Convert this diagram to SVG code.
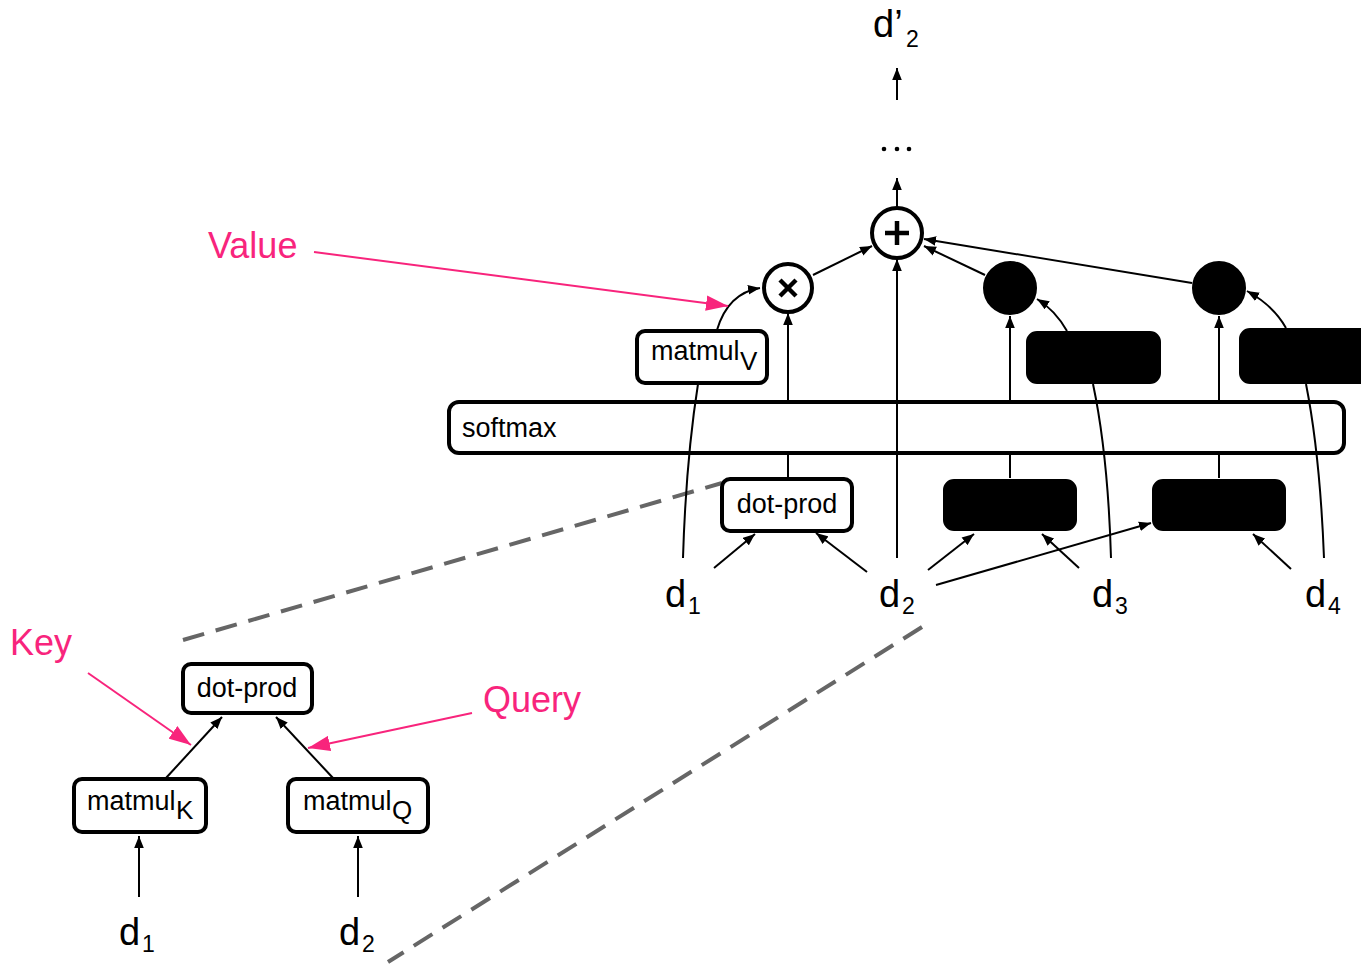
<svg xmlns="http://www.w3.org/2000/svg" width="1361" height="965" viewBox="0 0 1361 965">
  <style>
    .box { fill: #ffffff; stroke: #000000; stroke-width: 4; }
    .blk { fill: #000000; stroke: #000000; stroke-width: 2; }
    .lbl { font-family: "Liberation Sans", Arial, sans-serif; font-size: 27px; fill: #000000; }
    .sub { font-family: "Liberation Sans", Arial, sans-serif; font-size: 26px; fill: #000000; }
    .dv { font-family: "Liberation Sans", Arial, sans-serif; font-size: 38px; fill: #000000; }
    .ds { font-family: "Liberation Sans", Arial, sans-serif; font-size: 23px; fill: #000000; }
    .pink { font-family: "Liberation Sans", Arial, sans-serif; font-size: 36px; fill: #f8247c; }
    .edge { fill: none; stroke: #000000; stroke-width: 2; }
    .edge-a { fill: none; stroke: #000000; stroke-width: 2; marker-end: url(#ah); }
    .note { fill: none; stroke: #f8247c; stroke-width: 2; marker-end: url(#ph); }
    .dash { fill: none; stroke: #666666; stroke-width: 4; stroke-dasharray: 22 12; }
  </style>
  <defs>
    <marker id="ah" viewBox="0 0 10 8" refX="10" refY="4" markerWidth="12" markerHeight="10" markerUnits="userSpaceOnUse" orient="auto">
      <path d="M0,0 L10,4 L0,8 Z" fill="#000000"/>
    </marker>
    <marker id="ph" viewBox="0 0 20 14" refX="20" refY="7" markerWidth="22" markerHeight="16" markerUnits="userSpaceOnUse" orient="auto">
      <path d="M0,0 L20,7 L0,14 Z" fill="#f8247c"/>
    </marker>
  </defs>

  <rect width="1361" height="965" fill="#ffffff"/>

  <!-- zoom guides -->
  <g id="zoom-guides">
    <line class="dash" x1="183" y1="640" x2="722" y2="483"/>
    <line class="dash" x1="922" y1="627" x2="388" y2="962"/>
  </g>

  <!-- softmax bar -->
  <g id="softmax">
    <rect class="box" x="449" y="402" width="895" height="51" rx="10"/>
    <text class="lbl" x="462" y="437">softmax</text>
  </g>

  <!-- connectors -->
  <g id="connectors">
    <!-- output chain -->
    <line class="edge-a" x1="897" y1="100" x2="897" y2="68"/>
    <line class="edge-a" x1="897" y1="207" x2="897" y2="178"/>
    <!-- inputs to the sum -->
    <line class="edge-a" x1="813" y1="275" x2="872" y2="246"/>
    <line class="edge-a" x1="985" y1="275" x2="924" y2="246"/>
    <line class="edge-a" x1="1192" y1="283" x2="924" y2="239"/>
    <line class="edge-a" x1="897" y1="558" x2="897" y2="259"/>
    <!-- softmax to products -->
    <line class="edge-a" x1="788" y1="402" x2="788" y2="313"/>
    <line class="edge-a" x1="1010" y1="402" x2="1010" y2="316"/>
    <line class="edge-a" x1="1219" y1="402" x2="1219" y2="316"/>
    <!-- scores into softmax -->
    <line class="edge" x1="788" y1="478" x2="788" y2="453"/>
    <line class="edge" x1="1010" y1="478" x2="1010" y2="453"/>
    <line class="edge" x1="1219" y1="478" x2="1219" y2="453"/>
    <!-- value paths -->
    <path class="edge" d="M683,558 Q686,460 698,384"/>
    <path class="edge-a" d="M717,330 Q728,293 760,288"/>
    <path class="edge" d="M1111,558 Q1108,455 1093,384"/>
    <path class="edge-a" d="M1067,331 Q1055,310 1037,299"/>
    <path class="edge" d="M1324,558 Q1320,455 1306,384"/>
    <path class="edge-a" d="M1286,328 Q1274,306 1247,291"/>
    <!-- token inputs to scores -->
    <line class="edge-a" x1="714" y1="568" x2="755" y2="534"/>
    <line class="edge-a" x1="867" y1="572" x2="816" y2="533"/>
    <line class="edge-a" x1="928" y1="570" x2="974" y2="534"/>
    <line class="edge-a" x1="1079" y1="568" x2="1042" y2="534"/>
    <line class="edge-a" x1="936" y1="585" x2="1151" y2="523"/>
    <line class="edge-a" x1="1291" y1="569" x2="1253" y2="534"/>
    <!-- detail view -->
    <line class="edge-a" x1="166" y1="778" x2="222" y2="717"/>
    <line class="edge-a" x1="333" y1="778" x2="276" y2="717"/>
    <line class="edge-a" x1="139" y1="897" x2="139" y2="836"/>
    <line class="edge-a" x1="358" y1="897" x2="358" y2="836"/>
    <!-- annotations -->
    <line class="note" x1="314" y1="252" x2="728" y2="306"/>
    <line class="note" x1="88" y1="673" x2="191" y2="745"/>
    <line class="note" x1="472" y1="713" x2="308" y2="748"/>
  </g>

  <!-- output -->
  <g id="out">
    <text class="dv" x="873" y="37">d’</text>
    <text class="ds" x="906" y="47">2</text>
  </g>
  <g id="ellipsis">
    <circle cx="884" cy="149" r="2.3" fill="#000"/>
    <circle cx="897" cy="149" r="2.3" fill="#000"/>
    <circle cx="909" cy="149" r="2.3" fill="#000"/>
  </g>

  <!-- sum -->
  <g id="sum">
    <circle class="box" cx="897" cy="233" r="25"/>
    <line x1="885" y1="233" x2="909" y2="233" stroke="#000" stroke-width="4.5"/>
    <line x1="897" y1="221" x2="897" y2="245" stroke="#000" stroke-width="4.5"/>
  </g>

  <!-- products -->
  <g id="mul1">
    <circle class="box" cx="788" cy="288" r="24"/>
    <line x1="780" y1="280" x2="796" y2="296" stroke="#000" stroke-width="4.5"/>
    <line x1="796" y1="280" x2="780" y2="296" stroke="#000" stroke-width="4.5"/>
  </g>
  <g id="mul3">
    <circle class="blk" cx="1010" cy="288" r="26"/>
  </g>
  <g id="mul4">
    <circle class="blk" cx="1219" cy="288" r="26"/>
  </g>

  <!-- value projections -->
  <g id="matmul-v1">
    <rect class="box" x="637" y="331" width="130" height="52" rx="8"/>
    <text class="lbl" x="651" y="360">matmul</text>
    <text class="sub" x="740" y="370">V</text>
  </g>
  <g id="matmul-v3">
    <rect class="blk" x="1027" y="332" width="133" height="51" rx="10"/>
  </g>
  <g id="matmul-v4">
    <rect class="blk" x="1240" y="329" width="140" height="54" rx="10"/>
  </g>

  <!-- scores -->
  <g id="dot-prod-1">
    <rect class="box" x="722" y="479" width="130" height="52" rx="8"/>
    <text class="lbl" x="787" y="513" text-anchor="middle">dot-prod</text>
  </g>
  <g id="dot-prod-3">
    <rect class="blk" x="944" y="480" width="132" height="50" rx="10"/>
  </g>
  <g id="dot-prod-4">
    <rect class="blk" x="1153" y="480" width="132" height="50" rx="10"/>
  </g>

  <!-- tokens -->
  <g id="d1">
    <text class="dv" x="665" y="607">d</text>
    <text class="ds" x="688" y="614">1</text>
  </g>
  <g id="d2">
    <text class="dv" x="879" y="607">d</text>
    <text class="ds" x="902" y="614">2</text>
  </g>
  <g id="d3">
    <text class="dv" x="1092" y="607">d</text>
    <text class="ds" x="1115" y="614">3</text>
  </g>
  <g id="d4">
    <text class="dv" x="1305" y="607">d</text>
    <text class="ds" x="1328" y="614">4</text>
  </g>

  <!-- detail: score computation -->
  <g id="detail-dot-prod">
    <rect class="box" x="183" y="664" width="129" height="49" rx="8"/>
    <text class="lbl" x="247" y="697" text-anchor="middle">dot-prod</text>
  </g>
  <g id="matmul-k">
    <rect class="box" x="74" y="779" width="132" height="53" rx="8"/>
    <text class="lbl" x="87" y="810">matmul</text>
    <text class="sub" x="176" y="819">K</text>
  </g>
  <g id="matmul-q">
    <rect class="box" x="288" y="779" width="140" height="53" rx="8"/>
    <text class="lbl" x="303" y="810">matmul</text>
    <text class="sub" x="392" y="819">Q</text>
  </g>
  <g id="detail-d1">
    <text class="dv" x="119" y="945">d</text>
    <text class="ds" x="142" y="952">1</text>
  </g>
  <g id="detail-d2">
    <text class="dv" x="339" y="945">d</text>
    <text class="ds" x="362" y="952">2</text>
  </g>

  <!-- annotation labels -->
  <g id="labels">
    <text class="pink" x="208" y="258">Value</text>
    <text class="pink" x="10" y="655">Key</text>
    <text class="pink" x="483" y="712">Query</text>
  </g>
</svg>
